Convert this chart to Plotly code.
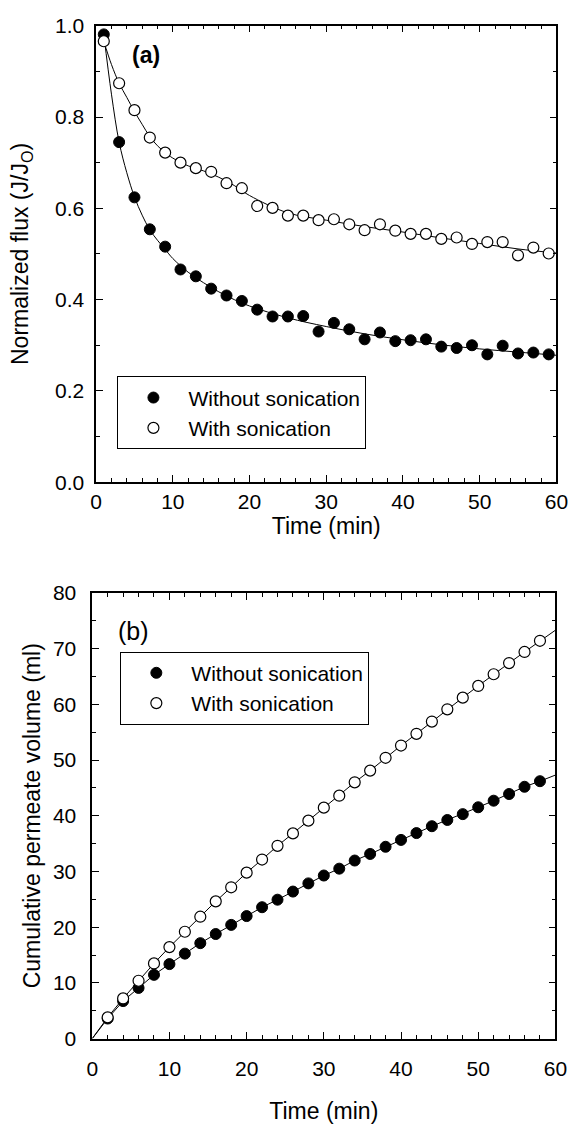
import plotly.graph_objects as go

# ---------------- Panel (a): normalized flux ----------------
t_a = [1, 3, 5, 7, 9, 11, 13, 15, 17, 19, 21, 23, 25, 27, 29, 31, 33, 35, 37, 39,
       41, 43, 45, 47, 49, 51, 53, 55, 57, 59]
flux_without = [0.981, 0.745, 0.624, 0.554, 0.516, 0.466, 0.451, 0.424, 0.409, 0.397,
                0.378, 0.363, 0.363, 0.364, 0.330, 0.349, 0.335, 0.313, 0.328, 0.309,
                0.311, 0.313, 0.297, 0.294, 0.300, 0.280, 0.299, 0.282, 0.284, 0.280]
flux_with = [0.966, 0.874, 0.815, 0.755, 0.722, 0.700, 0.688, 0.680, 0.655, 0.644,
             0.605, 0.601, 0.584, 0.584, 0.574, 0.576, 0.565, 0.552, 0.565, 0.551,
             0.544, 0.544, 0.533, 0.536, 0.522, 0.526, 0.526, 0.497, 0.514, 0.501]

# fitted curves
fit_t_a = [1, 2, 3, 4, 5, 6, 7, 8, 9, 10, 12, 14, 16, 18, 20, 25, 30, 35, 40, 45, 50, 55, 60]
fit_without = [0.981, 0.850, 0.745, 0.678, 0.625, 0.585, 0.553, 0.530, 0.510, 0.490,
               0.460, 0.437, 0.417, 0.400, 0.386, 0.360, 0.341, 0.325, 0.312, 0.301,
               0.292, 0.285, 0.278]
fit_with = [0.966, 0.915, 0.874, 0.843, 0.812, 0.784, 0.757, 0.737, 0.722, 0.710,
            0.693, 0.682, 0.668, 0.650, 0.628, 0.590, 0.574, 0.560, 0.548, 0.535,
            0.523, 0.511, 0.502]

# ---------------- Panel (b): cumulative permeate volume ----------------
t_b = [2, 4, 6, 8, 10, 12, 14, 16, 18, 20, 22, 24, 26, 28, 30, 32, 34, 36, 38, 40,
       42, 44, 46, 48, 50, 52, 54, 56, 58]
vol_without = [3.6, 6.74, 9.09, 11.44, 13.37, 15.25, 17.13, 18.77, 20.41, 21.99,
               23.58, 24.93, 26.39, 27.86, 29.27, 30.50, 31.96, 33.14, 34.43, 35.66,
               36.89, 38.12, 39.24, 40.29, 41.52, 42.7, 43.9, 45.2, 46.2]
vol_with = [3.81, 7.21, 10.38, 13.49, 16.42, 19.18, 21.88, 24.63, 27.16, 29.79,
            32.14, 34.6, 36.83, 39.12, 41.45, 43.6, 46.0, 48.1, 50.4, 52.6,
            54.7, 56.9, 59.1, 61.2, 63.3, 65.4, 67.4, 69.4, 71.4]
line_start_b = [0, 0.0]      # (time, volume) where both fitted lines begin
line_end_t_b = 60
line_end_without = 47.3
line_end_with = 73.3

FONT = "Liberation Sans, Arial, sans-serif"
W, H = 580, 1126

def px(x):
    return x / W

def py(y):
    return 1 - y / H

fig = go.Figure()

# panel (a)
fig.add_trace(go.Scatter(x=fit_t_a, y=fit_without, mode="lines", line=dict(color="black", width=1, shape="spline"),
                         showlegend=False, xaxis="x", yaxis="y", hoverinfo="skip"))
fig.add_trace(go.Scatter(x=fit_t_a, y=fit_with, mode="lines", line=dict(color="black", width=1, shape="spline"),
                         showlegend=False, xaxis="x", yaxis="y", hoverinfo="skip"))
fig.add_trace(go.Scatter(x=t_a, y=flux_without, mode="markers", name="Without sonication",
                         marker=dict(symbol="circle", size=11, color="black", line=dict(color="black", width=1)),
                         xaxis="x", yaxis="y", legend="legend", cliponaxis=False))
fig.add_trace(go.Scatter(x=t_a, y=flux_with, mode="markers", name="With sonication",
                         marker=dict(symbol="circle", size=11, color="white", line=dict(color="black", width=1.2)),
                         xaxis="x", yaxis="y", legend="legend", cliponaxis=False))

# panel (b)
fig.add_trace(go.Scatter(x=[line_start_b[0]] + t_b + [line_end_t_b],
                         y=[line_start_b[1]] + vol_without + [line_end_without],
                         mode="lines", line=dict(color="black", width=1),
                         showlegend=False, xaxis="x2", yaxis="y2", hoverinfo="skip"))
fig.add_trace(go.Scatter(x=[line_start_b[0]] + t_b + [line_end_t_b],
                         y=[line_start_b[1]] + vol_with + [line_end_with],
                         mode="lines", line=dict(color="black", width=1),
                         showlegend=False, xaxis="x2", yaxis="y2", hoverinfo="skip"))
fig.add_trace(go.Scatter(x=t_b, y=vol_without, mode="markers", name="Without sonication",
                         marker=dict(symbol="circle", size=11, color="black", line=dict(color="black", width=1)),
                         xaxis="x2", yaxis="y2", legend="legend2", cliponaxis=False))
fig.add_trace(go.Scatter(x=t_b, y=vol_with, mode="markers", name="With sonication",
                         marker=dict(symbol="circle", size=11, color="white", line=dict(color="black", width=1.2)),
                         xaxis="x2", yaxis="y2", legend="legend2", cliponaxis=False))

def axis_common(title_size):
    return dict(
        showline=True, linecolor="black", linewidth=1.5, mirror="allticks",
        ticks="inside", ticklen=7, tickwidth=1, tickcolor="black",
        showgrid=False, zeroline=False,
        tickfont=dict(family=FONT, size=21, color="black"),
        title_font=dict(family=FONT, size=title_size, color="black"),
    )

fig.update_layout(
    width=W, height=H,
    margin=dict(l=0, r=0, t=0, b=0),
    paper_bgcolor="white", plot_bgcolor="white",
    font=dict(family=FONT, color="black"),
    xaxis=dict(domain=[px(93), px(568)], range=[0, 60], dtick=10, anchor="y",
               minor=dict(ticks="inside", ticklen=4, dtick=2, tickcolor="black"),
               ticklabelstandoff=0,
               title=dict(text="Time (min)", standoff=0), **axis_common(23)),
    yaxis=dict(domain=[py(480), py(14)], range=[0, 1.0], dtick=0.2, tickformat=".1f", anchor="x",
               minor=dict(ticks="inside", ticklen=4, dtick=0.1, tickcolor="black"),
               ticklabelstandoff=6,
               title=dict(text="Normalized flux (J/J<sub>O</sub>)", standoff=20), **axis_common(23)),
    xaxis2=dict(domain=[px(89), px(567)], range=[0, 60], dtick=10, anchor="y2",
                minor=dict(ticks="inside", ticklen=4, dtick=2, tickcolor="black"),
                ticklabelstandoff=10,
                title=dict(text="Time (min)", standoff=24), **axis_common(23)),
    yaxis2=dict(domain=[py(1048), py(593)], range=[0, 80], dtick=10, anchor="x2",
                minor=dict(ticks="inside", ticklen=4, dtick=5, tickcolor="black"),
                ticklabelstandoff=10,
                title=dict(text="Cumulative permeate volume (ml)", standoff=6), **axis_common(23)),
    legend=dict(x=px(115), y=py(372), xanchor="left", yanchor="top",
                bordercolor="black", borderwidth=1, bgcolor="white", itemwidth=60,
                font=dict(family=FONT, size=21, color="black"), tracegroupgap=0),
    legend2=dict(x=px(118), y=py(653), xanchor="left", yanchor="top",
                 bordercolor="black", borderwidth=1, bgcolor="white", itemwidth=60,
                 font=dict(family=FONT, size=21, color="black"), tracegroupgap=0),
    annotations=[
        dict(text="<b>(a)</b>", x=px(128), y=py(44), xref="paper", yref="paper",
             xanchor="left", yanchor="middle", showarrow=False,
             font=dict(family=FONT, size=23, color="black")),
        dict(text="(b)", x=px(114), y=py(632), xref="paper", yref="paper",
             xanchor="left", yanchor="middle", showarrow=False,
             font=dict(family=FONT, size=25, color="black")),
    ],
)

fig.write_html("out.html")
